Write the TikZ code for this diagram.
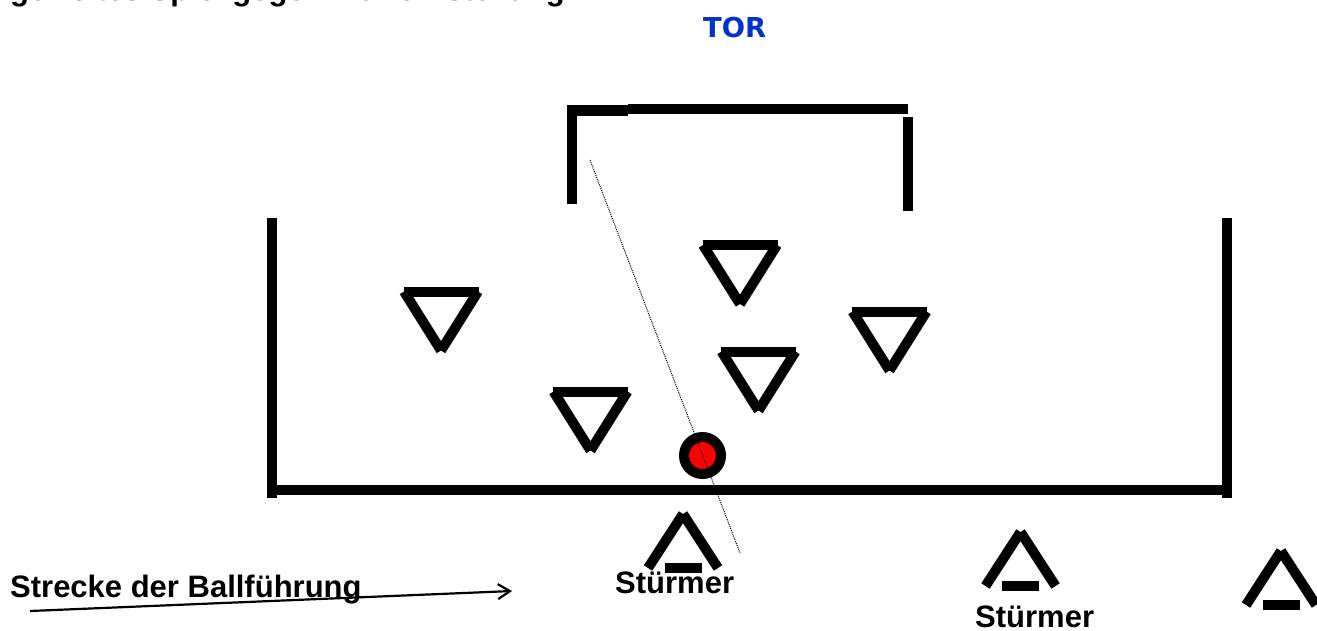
\documentclass[tikz,border=0pt]{standalone}
\usepackage{fontspec}
\setmainfont{Liberation Sans}
\newfontfamily\torfont{DejaVu Sans}
\usetikzlibrary{arrows.meta}
\definecolor{torblue}{RGB}{0,51,204}
\definecolor{ballred}{RGB}{255,0,0}
\begin{document}
\begin{tikzpicture}[x=1pt,y=-1pt,line cap=butt,
  bar/.style={line width=10pt},
  lbl/.style={font=\fontsize{31}{36}\selectfont\bfseries,inner sep=0pt,anchor=base west},
  defender/.pic={
    \draw[bar] (-37.5,0)--(37.5,0);
    \draw[bar] (-37,0)--(0,59);
    \draw[bar] (37,0)--(0,59);},
  attacker/.pic={
    \draw[bar] (0,5)--(-35,59);
    \draw[bar] (0,5)--(35,59);
    \draw[bar] (-18.5,59)--(18.5,59);}
]
\fill[white] (0,0) rectangle (1317,630);
\useasboundingbox (0,0) rectangle (1317,630);

% heading, cut off at the top edge
\node[lbl] (title) at (10,0) {gezieltes Spiel gegen Abwehrstellung};
\node[font=\torfont\fontsize{27.4}{32}\selectfont\bfseries,text=torblue,inner sep=0pt,anchor=base west] (tor) at (703,37) {TOR};

% goal
\draw[line width=11pt] (567,110)--(628,110);
\draw[bar] (628,108.5)--(908,108.5);
\draw[bar] (572,111)--(572,204);
\draw[bar] (908,117)--(908,211);

% playing area
\draw[bar] (272,218)--(272,498);
\draw[bar] (1226.5,218)--(1226.5,498);
\draw[bar] (267,490)--(1232,490);

% defenders
\pic (d1) at (441,291.5) {defender};
\pic (d2) at (740,245) {defender};
\pic (d3) at (889.5,311.5) {defender};
\pic (d4) at (758.5,351.5) {defender};
\pic (d5) at (590.5,391.5) {defender};

% attackers
\pic (a1) at (683,509) {attacker};
\pic (a2) at (1020.5,527) {attacker};
\pic (a3) at (1281,546) {attacker};

% ball
\node[circle,draw,line width=10pt,fill=ballred,minimum size=37pt,inner sep=0pt] (ball) at (702.5,455.5) {};

% shooting line
\coordinate (shotA) at (590,160);
\coordinate (shotB) at (740,553);
\draw[densely dotted,line width=1pt] (shotA)--(shotB);

% labels
\node[lbl] (st1) at (615,593) {Stürmer};
\node[lbl] (st2) at (975,627.5) {Stürmer};
\node[lbl] (strecke) at (10,597) {Strecke der Ballführung};

% dribbling path
\coordinate (runA) at (30,611);
\coordinate (runB) at (512,591);
\draw[line width=2.2pt,-{Straight Barb[length=12pt,width=15pt]}] (runA)--(runB);
\end{tikzpicture}
\end{document}
